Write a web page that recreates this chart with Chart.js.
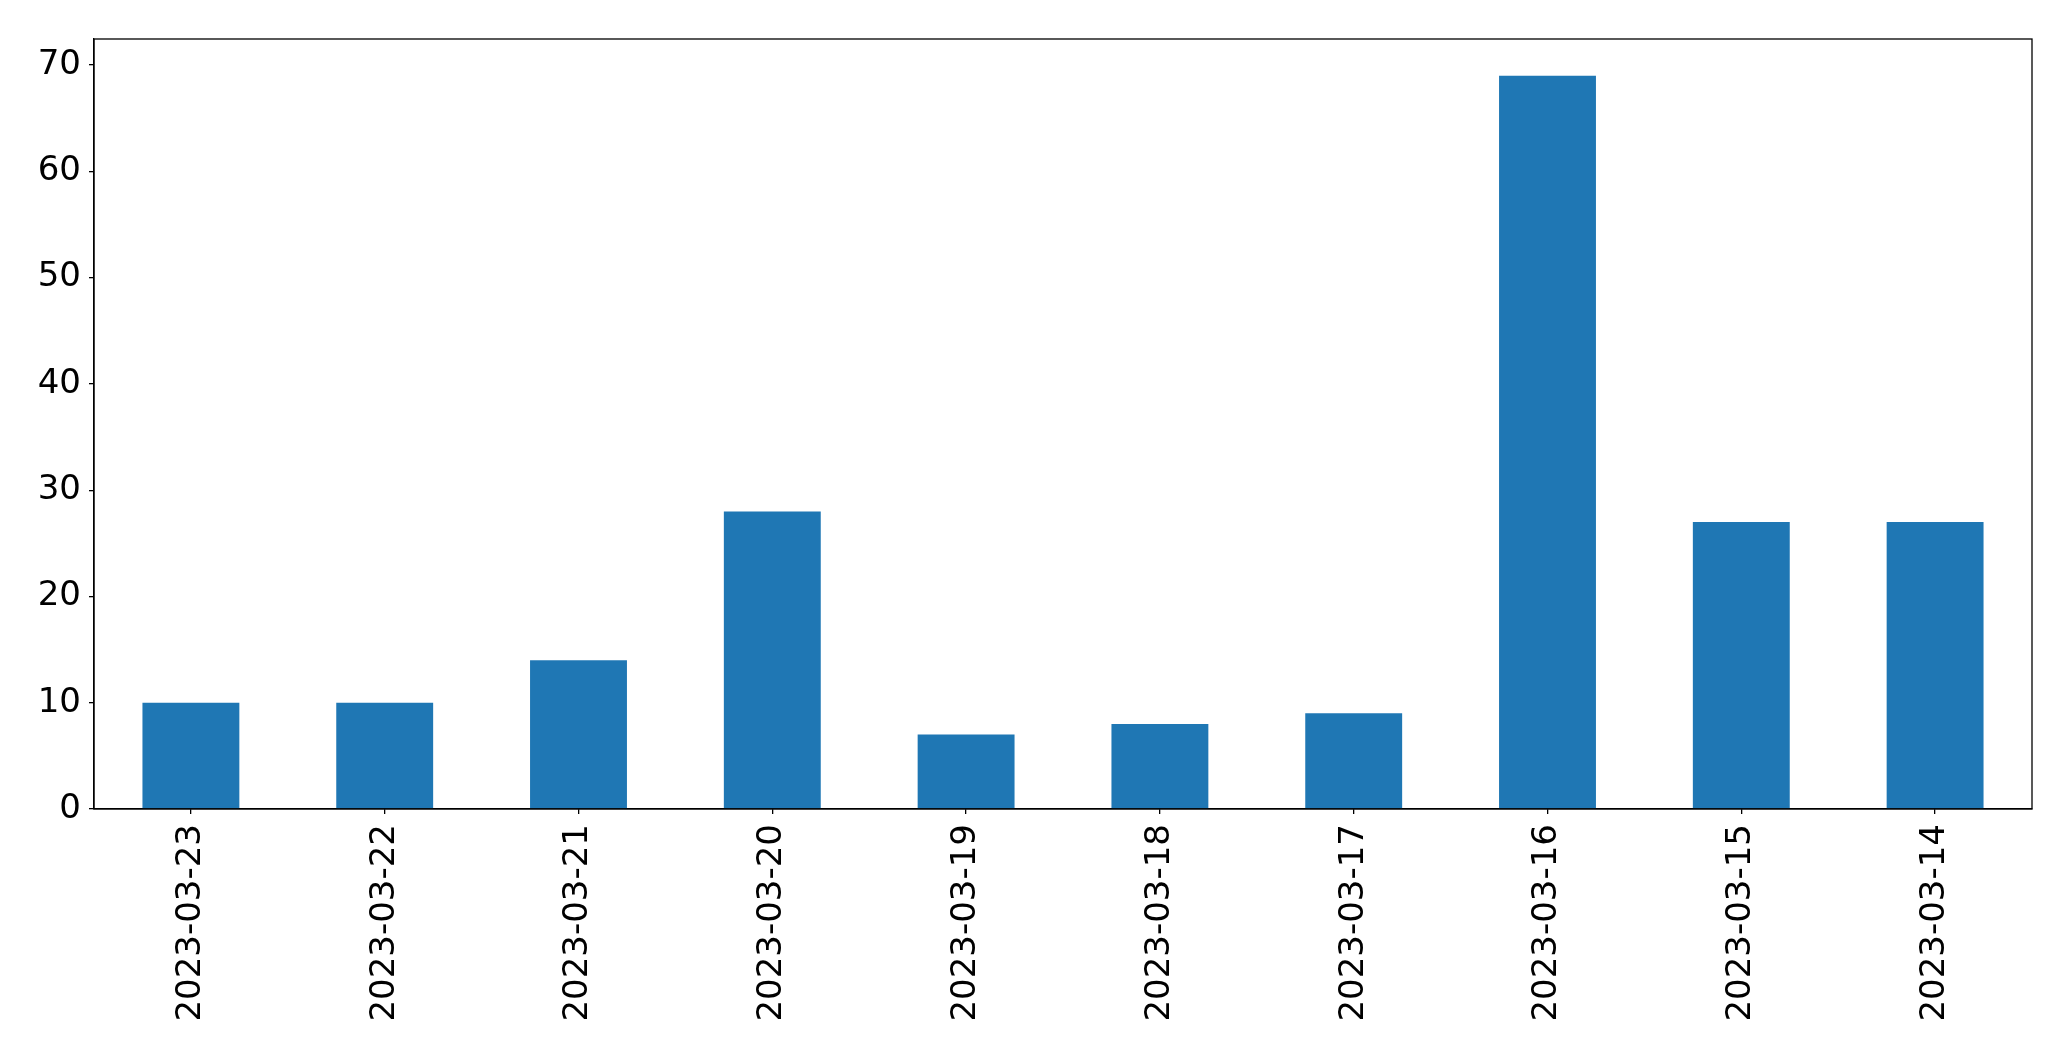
<!DOCTYPE html>
<html>
<head>
<meta charset="utf-8">
<script src="https://cdn.jsdelivr.net/npm/chart.js@4"></script>
<style>
    html, body { margin: 0; padding: 0; background: #ffffff; }
    #wrap { width: 2071px; height: 1061px; }
</style>
</head>
<body>
<div id="wrap"><canvas id="grafico" width="2071" height="1061"></canvas></div>
<script>
// Datas (eixo x) e contagens
const datas = ["2023-03-23", "2023-03-22", "2023-03-21", "2023-03-20", "2023-03-19",
               "2023-03-18", "2023-03-17", "2023-03-16", "2023-03-15", "2023-03-14"];
const contagens = [10, 10, 14, 28, 7, 8, 9, 69, 27, 27];
const ticksY = [0, 10, 20, 30, 40, 50, 60, 70];
const maxY = 72.45;

// Moldura em volta da área do gráfico
const moldura = {
    id: 'moldura',
    afterDraw(chart) {
        const { ctx, chartArea } = chart;
        ctx.save();
        ctx.strokeStyle = '#000000';
        ctx.lineWidth = 1.3;
        ctx.strokeRect(chartArea.left, chartArea.top, chartArea.right - chartArea.left, chartArea.bottom - chartArea.top);
        ctx.restore();
    }
};

Chart.defaults.font.family = "'DejaVu Sans', sans-serif";
Chart.defaults.color = '#000000';

new Chart(document.getElementById('grafico'), {
    type: 'bar',
    data: {
        labels: datas,
        datasets: [{
            data: contagens,
            backgroundColor: '#1f77b4',
            barPercentage: 0.5,
            categoryPercentage: 1.0
        }]
    },
    options: {
        responsive: false,
        animation: false,
        events: [],
        layout: { padding: { top: 39, right: 39, left: 0, bottom: 0 } },
        plugins: {
            legend: { display: false },
            tooltip: { enabled: false }
        },
        scales: {
            x: {
                grid: { offset: false, drawOnChartArea: false, drawTicks: true, tickLength: 5, color: '#000000', lineWidth: 1.3 },
                border: { display: true, color: '#000000', width: 1.3 },
                ticks: { font: { size: 34 }, minRotation: 90, maxRotation: 90, padding: 10, autoSkip: false },
                afterFit(scale) { scale.height = 1061 - 809; }
            },
            y: {
                min: 0,
                max: maxY,
                grid: { drawOnChartArea: false, drawTicks: true, tickLength: 5, color: '#000000', lineWidth: 1.3 },
                border: { display: true, color: '#000000', width: 1.3 },
                ticks: { font: { size: 34 }, stepSize: 10, padding: 8 },
                afterBuildTicks(scale) {
                    scale.ticks = ticksY.map(v => ({ value: v }));
                },
                afterFit(scale) { scale.width = 94; }
            }
        }
    },
    plugins: [moldura]
});
</script>
</body>
</html>
